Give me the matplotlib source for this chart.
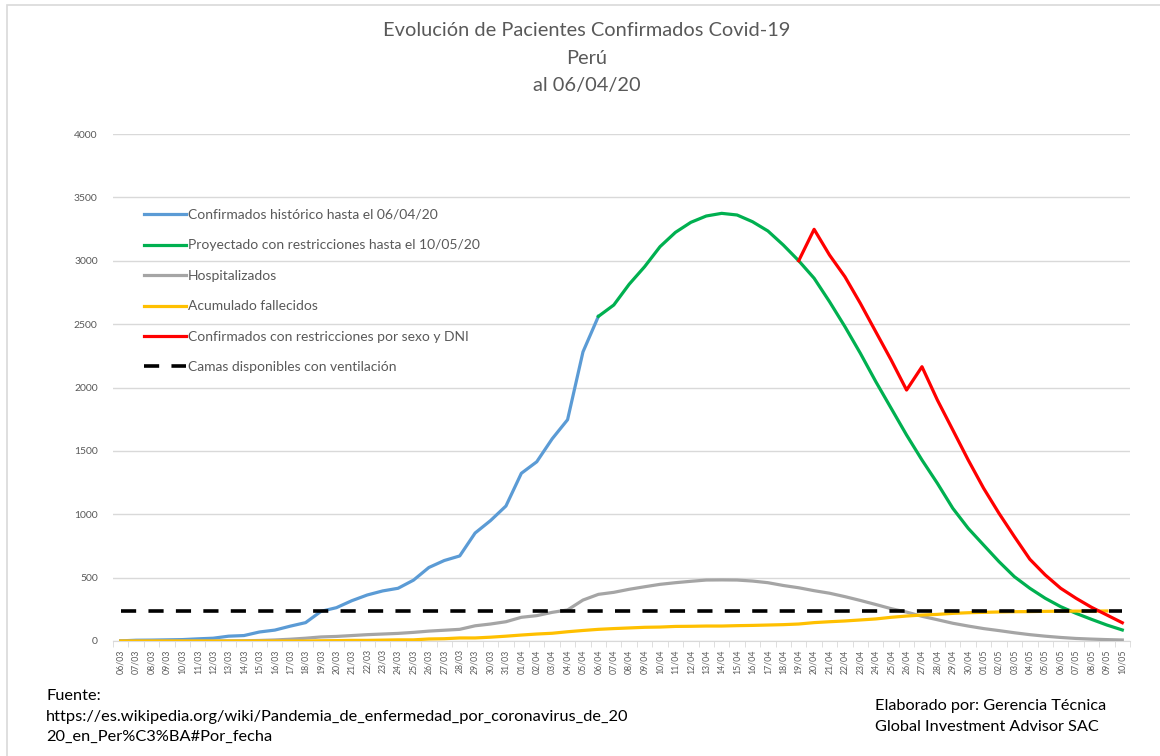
import numpy as np
import pandas as pd
import matplotlib
matplotlib.use("Agg")
import matplotlib.pyplot as plt
from matplotlib.patches import Rectangle

plt.rcParams['font.family'] = ['Lato', 'DejaVu Sans']

# Fechas del eje (06/03 al 10/05)
fechas = pd.date_range('2020-03-06', '2020-05-10').strftime('%d/%m').tolist()

# Confirmados históricos (06/03 - 06/04)
confirmados = [1, 6, 7, 9, 11, 17, 22, 38, 43, 71, 86, 117, 145, 234, 263, 318,
               363, 395, 416, 480, 580, 635, 671, 852, 950, 1065, 1323, 1414,
               1595, 1746, 2281, 2561]

# Proyectado con restricciones (06/04 - 10/05)
proyectado = [2561, 2651, 2815, 2953, 3111, 3224, 3303, 3353, 3374, 3361, 3308,
              3235, 3124, 3000, 2862, 2677, 2480, 2270, 2047, 1836, 1625, 1428,
              1244, 1047, 889, 757, 626, 507, 416, 337, 271, 218, 171, 126, 87]

# Confirmados con restricciones por sexo y DNI (19/04 - 10/05)
restr_dni = [3000, 3248, 3045, 2874, 2664, 2440, 2217, 1980, 2164, 1901, 1665,
             1428, 1205, 1007, 823, 645, 521, 416, 337, 266, 205, 144]

# Hospitalizados (06/03 - 10/05)
hospitalizados = [0, 0, 0, 0, 0, 0, 0, 1, 2, 4, 8, 14, 22, 32, 36, 43, 50, 55,
                  60, 68, 78, 85, 92, 120, 134, 152, 187, 200, 226, 245, 323,
                  368, 384, 408, 428, 447, 460, 471, 481, 482, 481, 473, 460,
                  438, 420, 397, 377, 350, 320, 288, 255, 228, 195, 168, 140,
                  118, 98, 82, 65, 50, 38, 28, 20, 15, 11, 8]

# Acumulado fallecidos (06/03 - 09/05)
fallecidos = [0, 0, 0, 0, 0, 0, 0, 0, 0, 0, 0, 0, 0, 2, 3, 5, 5, 7, 9, 9, 16,
              18, 24, 24, 30, 38, 47, 55, 61, 73, 83, 92, 98, 103, 108, 110,
              115, 116, 118, 118, 121, 123, 126, 129, 134, 145, 152, 158, 166,
              174, 187, 197, 205, 210, 218, 223, 226, 229, 231, 232, 234, 235,
              236, 236, 237]

# Camas disponibles con ventilación
camas = 236

n = len(fechas)
x = np.arange(n)
i_proy = fechas.index('06/04')
i_dni = fechas.index('19/04')

fig = plt.figure(figsize=(11.6, 7.56), dpi=100)
ax = fig.add_axes([113 / 1160, 1 - 641 / 756, (1130 - 113) / 1160, (641 - 134) / 756])

lw = 2.3
ax.plot(x[:len(confirmados)], confirmados, color='#5B9BD5', lw=lw,
        label='Confirmados histórico hasta el 06/04/20', zorder=3)
ax.plot(x[i_proy:i_proy + len(proyectado)], proyectado, color='#00B050', lw=lw,
        label='Proyectado con restricciones hasta el 10/05/20', zorder=3)
ax.plot(x[:len(hospitalizados)], hospitalizados, color='#A5A5A5', lw=lw,
        label='Hospitalizados', zorder=3)
ax.plot(x[:len(fallecidos)], fallecidos, color='#FFC000', lw=lw,
        label='Acumulado fallecidos', zorder=3)
ax.plot(x[i_dni:i_dni + len(restr_dni)], restr_dni, color='#FF0000', lw=lw,
        label='Confirmados con restricciones por sexo y DNI', zorder=4)
ax.plot([x[0], x[-1]], [camas, camas], color='black', lw=2.6, dashes=(4.2, 3.4),
        label='Camas disponibles con ventilación', zorder=5)

ax.set_xlim(-0.5, n - 0.5)
ax.set_ylim(0, 4000)
ax.set_yticks(np.arange(0, 4001, 500))
ax.yaxis.grid(True, color='#D9D9D9', lw=1)
ax.set_axisbelow(True)
for s in ['left', 'top', 'right']:
    ax.spines[s].set_visible(False)
ax.spines['bottom'].set_color('#D9D9D9')
ax.tick_params(axis='y', length=0, pad=11, labelsize=7.5, labelcolor='#595959')

ax.set_xticks(x)
ax.set_xticklabels(fechas, rotation=90, fontsize=6.3, color='#595959')
ax.tick_params(axis='x', which='major', length=0, pad=6)
ax.set_xticks(np.arange(-0.5, n, 1), minor=True)
ax.tick_params(axis='x', which='minor', length=4, color='#D9D9D9')

leg = ax.legend(loc='upper left', bbox_to_anchor=(137 / 1160, 1 - 202 / 756),
                bbox_transform=fig.transFigure, frameon=False, fontsize=10,
                handlelength=3.0, handletextpad=0.15, labelspacing=1.33,
                borderpad=0, labelcolor='#595959')

fig.text(587 / 1160, 1 - 58 / 756, 'Evolución de Pacientes Confirmados Covid-19\nPerú\nal 06/04/20',
         ha='center', va='center', fontsize=14.4, color='#595959', linespacing=1.75)

fig.text(46 / 1160, 1 - 689 / 756,
         'Fuente:\nhttps://es.wikipedia.org/wiki/Pandemia_de_enfermedad_por_coronavirus_de_20\n20_en_Per%C3%BA#Por_fecha',
         ha='left', va='top', fontsize=11.8, color='black', linespacing=1.6)
fig.text(875 / 1160, 1 - 699 / 756, 'Elaborado por: Gerencia Técnica\nGlobal Investment Advisor SAC',
         ha='left', va='top', fontsize=11.7, color='black', linespacing=1.6)

# Borde del área del gráfico
fig.patches.append(Rectangle((7 / 1160, -0.1), 1.2, 1 - 5 / 756 + 0.1,
                             transform=fig.transFigure, fill=False,
                             edgecolor='#D9D9D9', lw=1.2))

fig.savefig('out.png', dpi=100)
